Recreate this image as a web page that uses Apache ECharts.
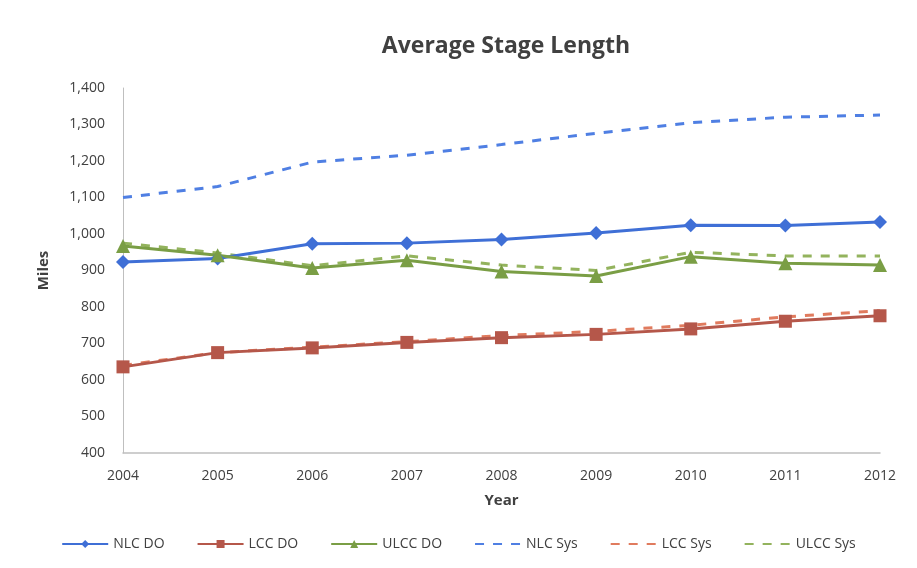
<!DOCTYPE html>
<html><head><meta charset="utf-8">
<script src="https://cdn.jsdelivr.net/npm/echarts@6/dist/echarts.min.js"></script>
<style>html,body{margin:0;padding:0;background:#fff}#c{width:917px;height:568px}</style>
</head><body><div id="c"></div>
<script>
const years = ['2004','2005','2006','2007','2008','2009','2010','2011','2012'];
const nlcDO  = [923, 933, 973, 975, 985, 1003, 1024, 1023, 1033];
const lccDO  = [636, 675, 688, 703, 716, 725, 740, 761, 776];
const ulccDO = [967, 942, 907, 928, 897, 885, 938, 920, 915];
const nlcSys  = [1100, 1130, 1197, 1216, 1245, 1276, 1305, 1320, 1326];
const lccSys  = [640, 675, 690, 705, 722, 733, 750, 773, 790];
const ulccSys = [975, 948, 913, 940, 915, 900, 950, 940, 940];

const FONT = '"Open Sans",sans-serif';
const chart = echarts.init(document.getElementById('c'));
function solid(name, data, color, symbol, size){
  return {name, type:'line', data, symbol, symbolSize:size, color,
    lineStyle:{color, width:3}, itemStyle:{color}, z:3};
}
function dashed(name, data, color){
  return {name, type:'line', data, symbol:'none', color,
    lineStyle:{color, width:3, type:[9,9]}, itemStyle:{color:'rgba(0,0,0,0)'}, z:2};
}
chart.setOption({
  animation:false,
  title:{text:'Average Stage Length', left:501, textAlign:'center', top:30,
    textStyle:{fontFamily:FONT, fontSize:23, fontWeight:'bold', color:'#404040'}},
  grid:{left:123, right:37, top:88, bottom:115},
  legend:{bottom:12, left:'center', itemGap:32, itemWidth:46, itemHeight:10,
    textStyle:{fontFamily:FONT, fontSize:14, color:'#404040'},
    data:['NLC DO','LCC DO','ULCC DO','NLC Sys','LCC Sys','ULCC Sys']},
  xAxis:{type:'category', data:years, boundaryGap:false,
    name:'Year', nameLocation:'middle', nameGap:40,
    nameTextStyle:{fontFamily:FONT, fontSize:15, fontWeight:'bold', color:'#404040'},
    axisLine:{lineStyle:{color:'#bfbfbf', width:1.5}}, axisTick:{show:false},
    axisLabel:{fontFamily:FONT, fontSize:14, color:'#404040', margin:16}},
  yAxis:{type:'value', min:400, max:1400, interval:100,
    name:'Miles', nameLocation:'middle', nameGap:72, nameRotate:90,
    nameTextStyle:{fontFamily:FONT, fontSize:15, fontWeight:'bold', color:'#404040'},
    axisLine:{show:true, lineStyle:{color:'#bfbfbf', width:1}}, axisTick:{show:false},
    splitLine:{show:false},
    axisLabel:{fontFamily:FONT, fontSize:14, color:'#404040', margin:18,
      formatter:v=>v.toLocaleString('en-US')}},
  series:[
    solid('NLC DO', nlcDO, '#3f6fd6', 'diamond', 14),
    solid('LCC DO', lccDO, '#b5574a', 'rect', 13),
    solid('ULCC DO', ulccDO, '#7a9e45', 'triangle', 14),
    dashed('NLC Sys', nlcSys, '#4f7fe3'),
    dashed('LCC Sys', lccSys, '#e07b5e'),
    dashed('ULCC Sys', ulccSys, '#93b35d')
  ]
});
</script></body></html>
